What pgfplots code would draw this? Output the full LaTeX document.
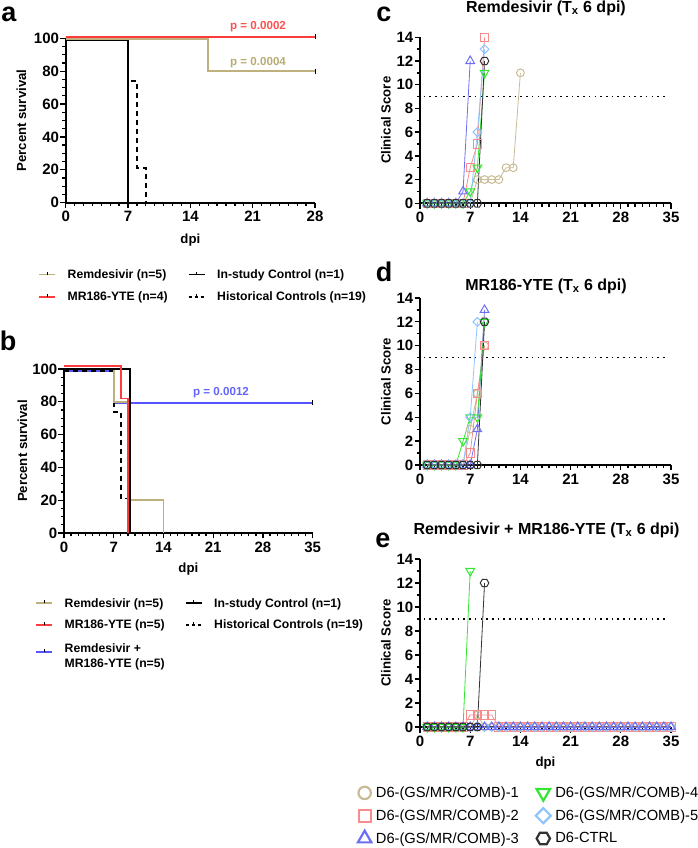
\documentclass[border=0pt]{standalone}
\usepackage{pgfplots}
\pgfplotsset{compat=1.18}
\usepackage{fontspec}
\setmainfont{Liberation Sans}
\usetikzlibrary{plotmarks}

\definecolor{kmtan}{RGB}{191,177,125}
\definecolor{kmred}{RGB}{255,60,60}
\definecolor{kmblue}{RGB}{85,85,255}
\definecolor{ptan}{RGB}{185,172,115}
\definecolor{pred}{RGB}{255,80,80}
\definecolor{pblue}{RGB}{100,100,255}
\definecolor{cA}{RGB}{200,188,150}
\definecolor{cB}{RGB}{248,140,140}
\definecolor{cC}{RGB}{110,110,245}
\definecolor{cD}{RGB}{50,230,50}
\definecolor{cE}{RGB}{145,195,255}
\definecolor{cF}{RGB}{50,50,50}

\pgfdeclareplotmark{hexagon}{%
  \pgfpathmoveto{\pgfpointpolar{0}{\pgfplotmarksize}}%
  \pgfpathlineto{\pgfpointpolar{60}{\pgfplotmarksize}}%
  \pgfpathlineto{\pgfpointpolar{120}{\pgfplotmarksize}}%
  \pgfpathlineto{\pgfpointpolar{180}{\pgfplotmarksize}}%
  \pgfpathlineto{\pgfpointpolar{240}{\pgfplotmarksize}}%
  \pgfpathlineto{\pgfpointpolar{300}{\pgfplotmarksize}}%
  \pgfpathclose\pgfusepathqstroke}

\newcommand{\lblfont}{\bfseries\fontsize{13.2}{14}\selectfont}

\pgfplotsset{
  prism/.style={scale only axis, anchor=south west,
    axis x line*=bottom, axis y line*=left,
    axis line style={line width=1.8pt, -},
    tick style={black, line width=1.3pt},
    tick align=outside, major tick length=5.5pt, minor tick length=3.3pt,
    ticklabel style={font=\bfseries\fontsize{15}{15}\selectfont},
    yticklabel style={inner sep=1pt},
    xticklabel style={inner sep=3pt},
    /pgf/number format/assume math mode=true,
    clip=false},
  km/.style={prism, xmin=0, ymin=0, ymax=100, ytick={0,20,...,100}, minor y tick num=3,
    minor x tick num=6,
    ylabel={Percent survival}, xlabel={dpi},
    legend columns=2,
    legend cell align=left,
    legend image code/.code={\draw[##1, line width=1.8pt] (0pt,0pt) -- (16pt,0pt);
       \draw[black, solid, line width=1pt] (8pt,0pt) -- (8pt,3pt);},
    legend style={draw=none, fill=none, at={(axis description cs:0,0)}, anchor=north west,
      font=\bfseries\fontsize{12.2}{15}\selectfont, nodes={inner sep=0pt},
      /tikz/every odd column/.append style={column sep=11.7pt},
      /tikz/every even column/.append style={column sep=20pt}}},
  kml/.style={const plot, line width=1.8pt, forget plot},
  cs/.style={prism, xmin=0, xmax=35, ymin=0, ymax=14, xtick={0,7,...,35}, minor x tick num=6,
    ytick={0,2,...,14}, minor y tick num=1, ylabel={Clinical Score},
    ylabel style={at={(axis description cs:-0.1355,0.5)}, anchor=center, font=\lblfont},
    width=251pt},
  s1/.style={color=cA, line width=0.8pt, mark=o, mark size=3.9pt, mark options={solid, line width=1pt}},
  s2/.style={color=cB, line width=0.8pt, mark=square, mark size=4.1pt, mark options={solid, line width=1pt}},
  s3/.style={color=cC, line width=0.8pt, mark=triangle, mark size=5pt, mark options={solid, line width=1pt}},
  s4/.style={color=cD, line width=0.8pt, mark=triangle, mark size=5pt, mark options={solid, rotate=180, line width=1pt}},
  s5/.style={color=cE, line width=0.8pt, mark=square, mark size=3.1pt, mark options={solid, rotate=45, line width=1pt}},
  s6/.style={color=cF, line width=0.8pt, mark=hexagon, mark size=4.3pt, mark options={solid, line width=1pt}},
  thr/.style={black, line width=1.6pt, dash pattern=on 1.6pt off 4.1pt, forget plot},
}

\begin{document}
\begin{tikzpicture}[x=1pt,y=1pt]
\useasboundingbox (0,0) rectangle (698,848);

% ---------------- panel a
\begin{axis}[km, at={(65.7pt,645.3pt)}, width=249.3pt, height=164.4pt,
  xmax=28, xtick={0,7,...,28},
  xlabel style={at={(axis description cs:0.5,-0.23)}, anchor=center, font=\lblfont},
  ylabel style={at={(axis description cs:-0.1777,0.5)}, anchor=center, font=\lblfont},
  legend style={xshift=-30.7pt, yshift=-64.5pt, row sep=12pt}]
\addplot[kml, black, dash pattern=on 5pt off 4pt] coordinates {(0,100)(7,74)(8,21)(9,0)};
\addplot[kml, black] coordinates {(0,99)(7,0)};
\addplot[kml, kmtan] coordinates {(0,99.6)(16,80)(28,80)};
\addplot[kml, kmred] coordinates {(0,100.8)(28,100.8)};
\addplot[only marks, mark=|, mark size=2.5pt, black, line width=1pt, forget plot] coordinates {(28,80)(28,100.8)};
\addlegendimage{kmtan}\addlegendentry{Remdesivir (n=5)}
\addlegendimage{black}\addlegendentry{In-study Control (n=1)}
\addlegendimage{kmred}\addlegendentry{MR186-YTE (n=4)}
\addlegendimage{black, dash pattern=on 3pt off 3pt}\addlegendentry{Historical Controls (n=19)}
\node[font=\bfseries\fontsize{11.6}{12}\selectfont, text=pred] at (axis cs:21.6,107.1) {p = 0.0002};
\node[font=\bfseries\fontsize{11.6}{12}\selectfont, text=ptan] at (axis cs:21.6,85.2) {p = 0.0004};
\end{axis}

% ---------------- panel b
\begin{axis}[km, at={(64pt,315pt)}, width=248.7pt, height=164pt,
  xmax=35, xtick={0,7,...,35},
  xlabel style={at={(axis description cs:0.5,-0.2195)}, anchor=center, font=\lblfont},
  ylabel style={at={(axis description cs:-0.1669,0.5)}, anchor=center, font=\lblfont},
  legend style={xshift=-32pt, yshift=-63pt, row sep=11.5pt}]
\addplot[kml, kmblue] coordinates {(0,99)(7,79.5)(35,79.5)};
\addplot[kml, black, dash pattern=on 5pt off 4pt] coordinates {(0,99)(7,74)(8,21)(9,0)};
\addplot[kml, kmtan] coordinates {(0,100)(7,80)(9,20)(14,0)};
\addplot[kml, black] coordinates {(0,100)(9.25,0)};
\addplot[kml, kmred] coordinates {(0,101.8)(8,82)(9,0)};
\addplot[only marks, mark=|, mark size=2.5pt, black, line width=1pt, forget plot] coordinates {(35,79.5)};
\addlegendimage{kmtan}\addlegendentry{Remdesivir (n=5)}
\addlegendimage{black}\addlegendentry{In-study Control (n=1)}
\addlegendimage{kmred}\addlegendentry{MR186-YTE (n=5)}
\addlegendimage{black, dash pattern=on 3pt off 3pt}\addlegendentry{Historical Controls (n=19)}
\addlegendimage{kmblue}\addlegendentry{\begin{tabular}{@{}l@{}}Remdesivir +\\MR186-YTE (n=5)\end{tabular}}
\node[font=\bfseries\fontsize{11.6}{12}\selectfont, text=pblue] at (axis cs:22.1,85.8) {p = 0.0012};
\end{axis}

% ---------------- panel c
\begin{axis}[cs, at={(420pt,644.7pt)}, height=166pt]
\addplot[thr] coordinates {(0.5,9)(34.5,9)};
\addplot[s1] coordinates {(1,0)(2,0)(3,0)(4,0)(5,0)(6,0)(7,0)(8,2)(9,2)(10,2)(11,2)(12,3)(13,3)(14,11)};
\addplot[s2] coordinates {(1,0)(2,0)(3,0)(4,0)(5,0)(6,0)(7,3)(8,5)(9,14)};
\addplot[s3] coordinates {(1,0)(2,0)(3,0)(4,0)(5,0)(6,1)(7,12)};
\addplot[s4] coordinates {(1,0)(2,0)(3,0)(4,0)(5,0)(6,0)(7,1)(8,3)(9,11)};
\addplot[s5] coordinates {(1,0)(2,0)(3,0)(4,0)(5,0)(6,0)(7,0)(8,6)(9,13)};
\addplot[s6] coordinates {(1,0)(2,0)(3,0)(4,0)(5,0)(6,0)(7,0)(8,0)(9,12)};
\end{axis}

% ---------------- panel d
\begin{axis}[cs, at={(420pt,383pt)}, height=167pt]
\addplot[thr] coordinates {(0.5,9)(34.5,9)};
\addplot[s1] coordinates {(1,0)(2,0)(3,0)(4,0)(5,0)(6,0)(7,3)(8,6)(9,10)};
\addplot[s2] coordinates {(1,0)(2,0)(3,0)(4,0)(5,0)(6,0)(7,1)(8,6)(9,10)};
\addplot[s3] coordinates {(1,0)(2,0)(3,0)(4,0)(5,0)(6,0)(7,0)(8,3)(9,13)};
\addplot[s4] coordinates {(1,0)(2,0)(3,0)(4,0)(5,0)(6,2)(7,4)(8,4)(9,12)};
\addplot[s5] coordinates {(1,0)(2,0)(3,0)(4,0)(5,0)(6,0)(7,4)(8,12)};
\addplot[s6] coordinates {(1,0)(2,0)(3,0)(4,0)(5,0)(6,0)(7,0)(8,0)(9,12)};
\end{axis}

% ---------------- panel e
\begin{axis}[cs, at={(420pt,121pt)}, height=168pt,
  xlabel={dpi},
  xlabel style={at={(axis description cs:0.5,-0.214)}, anchor=center, font=\lblfont},
  legend columns=2, legend cell align=left,
  legend image code/.code={\draw[#1] plot coordinates {(0pt,0pt)};},
  legend style={draw=none, fill=none, at={(axis description cs:0,0)}, anchor=north west,
    xshift=-65.3pt, yshift=-57.5pt, row sep=7.5pt,
    font=\fontsize{14.7}{16}\selectfont, nodes={inner sep=0pt},
    /tikz/every odd column/.append style={column sep=4.5pt},
    /tikz/every even column/.append style={column sep=17pt}}]
\addplot[thr] coordinates {(0.5,9)(34.5,9)};
\addplot[s1, forget plot] coordinates {(1,0)(2,0)(3,0)(4,0)(5,0)(6,0)(7,0)(8,1)(9,0)(10,0)(11,0)(12,0)(13,0)(14,0)(15,0)(16,0)(17,0)(18,0)(19,0)(20,0)(21,0)(22,0)(23,0)(24,0)(25,0)(26,0)(27,0)(28,0)(29,0)(30,0)(31,0)(32,0)(33,0)(34,0)(35,0)};
\addplot[s2, forget plot] coordinates {(1,0)(2,0)(3,0)(4,0)(5,0)(6,0)(7,1)(8,1)(9,1)(10,1)(11,0)(12,0)(13,0)(14,0)(15,0)(16,0)(17,0)(18,0)(19,0)(20,0)(21,0)(22,0)(23,0)(24,0)(25,0)(26,0)(27,0)(28,0)(29,0)(30,0)(31,0)(32,0)(33,0)(34,0)(35,0)};
\addplot[s5, forget plot] coordinates {(1,0)(2,0)(3,0)(4,0)(5,0)(6,0)(7,0)(8,0)(9,0)(10,0)(11,0)(12,0)(13,0)(14,0)(15,0)(16,0)(17,0)(18,0)(19,0)(20,0)(21,0)(22,0)(23,0)(24,0)(25,0)(26,0)(27,0)(28,0)(29,0)(30,0)(31,0)(32,0)(33,0)(34,0)(35,0)};
\addplot[s3, forget plot] coordinates {(1,0)(2,0)(3,0)(4,0)(5,0)(6,0)(7,0)(8,0)(9,0)(10,0)(11,0)(12,0)(13,0)(14,0)(15,0)(16,0)(17,0)(18,0)(19,0)(20,0)(21,0)(22,0)(23,0)(24,0)(25,0)(26,0)(27,0)(28,0)(29,0)(30,0)(31,0)(32,0)(33,0)(34,0)(35,0)};
\addplot[s4, forget plot] coordinates {(1,0)(2,0)(3,0)(4,0)(5,0)(6,0)(7,13)};
\addplot[s6, forget plot] coordinates {(1,0)(2,0)(3,0)(4,0)(5,0)(6,0)(7,0)(8,0)(9,12)};
\addlegendimage{only marks, cA, mark=o, mark size=6.2pt, mark options={line width=2.2pt}}\addlegendentry{D6-(GS/MR/COMB)-1}
\addlegendimage{only marks, cD, mark=triangle, mark size=7.8pt, mark options={rotate=180, line width=2.2pt}}\addlegendentry{D6-(GS/MR/COMB)-4}
\addlegendimage{only marks, cB, mark=square, mark size=6pt, mark options={line width=2.2pt}}\addlegendentry{D6-(GS/MR/COMB)-2}
\addlegendimage{only marks, cE, mark=square, mark size=5.3pt, mark options={rotate=45, line width=2.2pt}}\addlegendentry{D6-(GS/MR/COMB)-5}
\addlegendimage{only marks, cC, mark=triangle, mark size=7.8pt, mark options={line width=2.2pt}}\addlegendentry{D6-(GS/MR/COMB)-3}
\addlegendimage{only marks, cF, mark=hexagon, mark size=6.7pt, mark options={line width=2.2pt}}\addlegendentry{D6-CTRL}
\end{axis}

% ---------------- titles and panel letters
\node[font=\bfseries\fontsize{16}{18}\selectfont] at (546,840) {Remdesivir (T\textsubscript{x} 6 dpi)};
\node[font=\bfseries\fontsize{16}{18}\selectfont] at (546,562) {MR186-YTE (T\textsubscript{x} 6 dpi)};
\node[font=\bfseries\fontsize{16}{18}\selectfont] at (546.5,318) {Remdesivir + MR186-YTE (T\textsubscript{x} 6 dpi)};
\node[font=\bfseries\fontsize{27}{29}\selectfont] at (9,834) {a};
\node[font=\bfseries\fontsize{27}{29}\selectfont] at (8,507) {b};
\node[font=\bfseries\fontsize{27}{29}\selectfont] at (384,834) {c};
\node[font=\bfseries\fontsize{27}{29}\selectfont] at (384,576) {d};
\node[font=\bfseries\fontsize{27}{29}\selectfont] at (383,308) {e};
\end{tikzpicture}
\end{document}
